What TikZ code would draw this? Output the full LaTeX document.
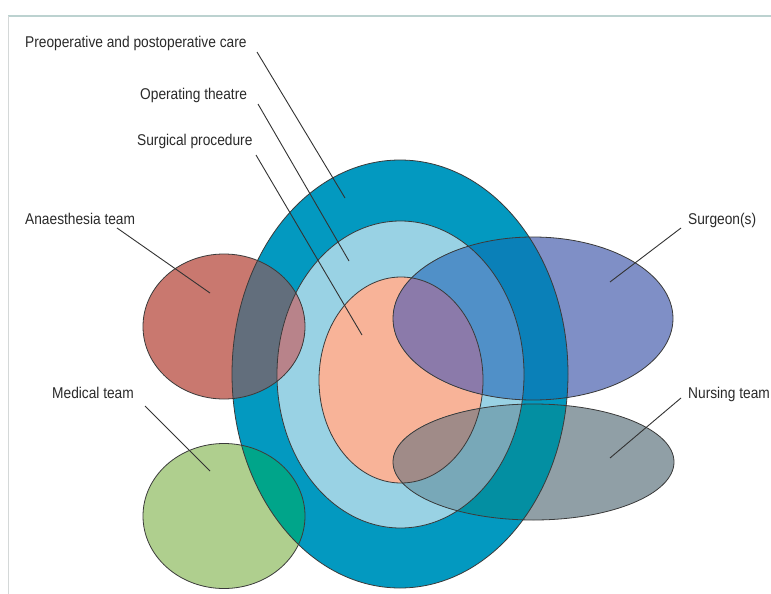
\documentclass[tikz,border=0pt]{standalone}
\usepackage{fontspec}
\newfontfamily\labfont{Liberation Sans}[FakeStretch=0.88]
\definecolor{cteal}{HTML}{0399C0}
\definecolor{clb}{HTML}{99D2E4}
\definecolor{cpeach}{HTML}{F8B398}
\definecolor{cred}{HTML}{C9786F}
\definecolor{cgreen}{HTML}{AFCF8E}
\definecolor{cblue}{HTML}{7F8FC6}
\definecolor{cgrey}{HTML}{909FA6}
\definecolor{cRT}{HTML}{626E7C}
\definecolor{cRL}{HTML}{B8838A}
\definecolor{cNT}{HTML}{00A58A}
\definecolor{cNL}{HTML}{5FB8A8}
\definecolor{cBT}{HTML}{0A80B8}
\definecolor{cBL}{HTML}{5090C8}
\definecolor{cBP}{HTML}{8B7AAA}
\definecolor{cGT}{HTML}{038FA2}
\definecolor{cGL}{HTML}{78A8B8}
\definecolor{cGP}{HTML}{A08B88}
\definecolor{outl}{HTML}{3A3A3A}
\definecolor{ldr}{HTML}{333333}
\definecolor{txt}{HTML}{2A2A2A}
\definecolor{frametop}{HTML}{BCD2D0}
\definecolor{frameleft}{HTML}{D4D8D8}
\begin{document}
\begin{tikzpicture}[x=1pt,y=-1pt,
  edge/.style={draw=outl,line width=0.8pt},
  lab/.style={font=\labfont\fontsize{15.6}{18}\selectfont, text=txt, inner sep=0pt, anchor=mid west},
  leader/.style={draw=ldr,line width=0.9pt}]
\useasboundingbox (0,0) rectangle (771,594);
\fill[white] (0,0) rectangle (771,594);
\draw[frametop,line width=1.2pt] (8,16) -- (771,16);
\draw[frameleft,line width=1pt] (8,16) -- (8,594);

\def\Eteal{(400,374) ellipse [x radius=168pt, y radius=214pt]}
\def\Elb{(400.5,374.5) ellipse [x radius=123.5pt, y radius=153.5pt]}
\def\Epeach{(401,380) ellipse [x radius=82pt, y radius=103pt]}
\def\Ered{(224,326.5) ellipse [x radius=81pt, y radius=72.5pt]}
\def\Egreen{(224,516) ellipse [x radius=81pt, y radius=72.5pt]}
\def\Eblue{(533,318.5) ellipse [x radius=140pt, y radius=81.5pt]}
\def\Egrey{(533.5,462) ellipse [x radius=140.5pt, y radius=58pt]}

% base fills
\fill[cteal] \Eteal;
\fill[clb] \Elb;
\fill[cpeach] \Epeach;
\fill[cred] \Ered;
\fill[cgreen] \Egreen;
\fill[cblue] \Eblue;
\fill[cgrey] \Egrey;

% overlaps
\begin{scope}\clip \Ered; \fill[cRT] \Eteal; \fill[cRL] \Elb; \end{scope}
\begin{scope}\clip \Egreen; \fill[cNT] \Eteal; \fill[cNL] \Elb; \end{scope}
\begin{scope}\clip \Eblue; \fill[cBT] \Eteal; \fill[cBL] \Elb; \fill[cBP] \Epeach; \end{scope}
\begin{scope}\clip \Egrey; \fill[cGT] \Eteal; \fill[cGL] \Elb; \fill[cGP] \Epeach; \end{scope}

% outlines
\draw[edge] \Eteal;
\draw[edge] \Elb;
\draw[edge] \Epeach;
\draw[edge] \Ered;
\draw[edge] \Egreen;
\draw[edge] \Eblue;
\draw[edge] \Egrey;

% labels
\node[lab] (preop) at (25,45) {Preoperative and postoperative care};
\node[lab] (theatre) at (140,97) {Operating theatre};
\node[lab] (surg) at (137,143) {Surgical procedure};
\node[lab] (anaes) at (25,222) {Anaesthesia team};
\node[lab] (surgeons) at (688,222) {Surgeon(s)};
\node[lab] (medical) at (52,396) {Medical team};
\node[lab] (nursing) at (688,396) {Nursing team};

% leader end points
\coordinate (preopA) at (257,52);   \coordinate (preopB) at (345,198);
\coordinate (theatreA) at (258,104); \coordinate (theatreB) at (349,261);
\coordinate (surgA) at (256,155);   \coordinate (surgB) at (362,335);
\coordinate (anaesA) at (117,228);  \coordinate (anaesB) at (210,293);
\coordinate (medicalA) at (145,406); \coordinate (medicalB) at (210,471);
\coordinate (surgeonsA) at (681,228); \coordinate (surgeonsB) at (610,282);
\coordinate (nursingA) at (681,398); \coordinate (nursingB) at (610,458);

\draw[leader] (preopA) -- (preopB);
\draw[leader] (theatreA) -- (theatreB);
\draw[leader] (surgA) -- (surgB);
\draw[leader] (anaesA) -- (anaesB);
\draw[leader] (medicalA) -- (medicalB);
\draw[leader] (surgeonsA) -- (surgeonsB);
\draw[leader] (nursingA) -- (nursingB);
\end{tikzpicture}
\end{document}
